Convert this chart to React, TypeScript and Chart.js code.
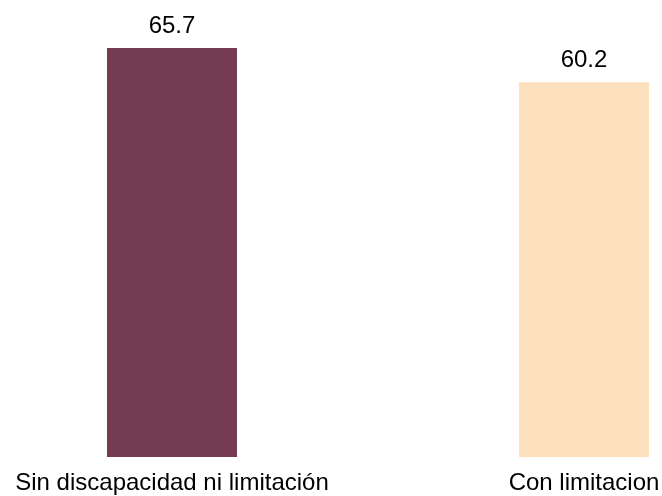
import React, { useEffect, useRef } from "react";
import { Chart, registerables } from "chart.js";

Chart.register(...registerables);

const categories = ["Sin discapacidad ni limitación", "Con limitacion"];
const values = [65.7, 60.2];
const barColors = ["#743B53", "#FCDFBD"];

const valueLabels = {
  id: "valueLabels",
  afterDatasetsDraw(chart: any) {
    const ctx = chart.ctx;
    const meta = chart.getDatasetMeta(0);
    ctx.save();
    ctx.font = "24px 'Liberation Sans', Arial, sans-serif";
    ctx.fillStyle = "#000000";
    ctx.textAlign = "center";
    ctx.textBaseline = "alphabetic";
    meta.data.forEach((bar: any, i: number) => {
      ctx.fillText(values[i].toFixed(1), bar.x, bar.y - 15);
    });
    ctx.restore();
  },
};

export default function App() {
  const ref = useRef<HTMLCanvasElement>(null);
  useEffect(() => {
    document.body.style.margin = "0";
    const chart = new Chart(ref.current!, {
      type: "bar",
      data: {
        labels: categories,
        datasets: [
          {
            data: values,
            backgroundColor: barColors,
            borderWidth: 0,
            barPercentage: 0.3155,
            categoryPercentage: 1,
            clip: false as any,
          },
        ],
      },
      options: {
        animation: false,
        responsive: true,
        maintainAspectRatio: false,
        layout: { padding: { left: 172, right: 78, top: 48, bottom: 0 } },
        plugins: { legend: { display: false }, tooltip: { enabled: false } },
        scales: {
          x: {
            offset: false,
            grid: { display: false },
            border: { display: false },
            afterFit: (scale: any) => {
              scale.paddingLeft = 0;
              scale.paddingRight = 0;
              scale.height = 39;
            },
            ticks: {
              color: "#000000",
              padding: 4,
              maxRotation: 0,
              autoSkip: false,
              font: { family: "'Liberation Sans', Arial, sans-serif", size: 24 },
            },
          },
          y: {
            display: false,
            min: 0,
            max: Math.max(...values),
          },
        },
      },
      plugins: [valueLabels],
    });
    return () => chart.destroy();
  }, []);
  return (
    <div style={{ width: 662, height: 496, position: "relative" }}>
      <canvas ref={ref} />
    </div>
  );
}
